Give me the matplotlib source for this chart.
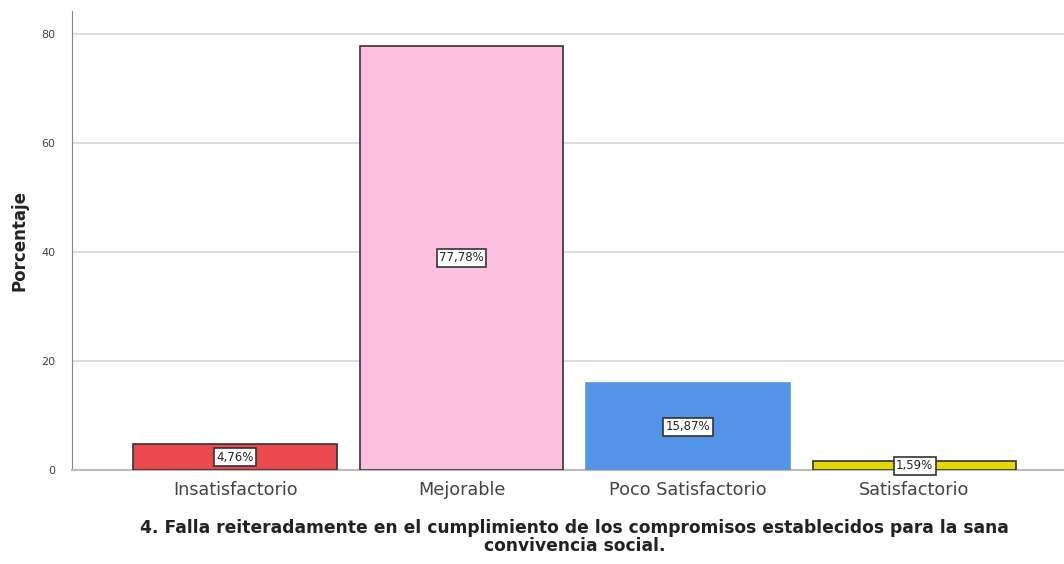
import matplotlib
matplotlib.use("Agg")
import matplotlib.pyplot as plt

categories = ["Insatisfactorio", "Mejorable", "Poco Satisfactorio", "Satisfactorio"]
values = [4.76, 77.78, 15.87, 1.59]
labels = ["4,76%", "77,78%", "15,87%", "1,59%"]
colors = ["#EA4A4E", "#FEC0E1", "#5494E6", "#E4D805"]
edges = ["#333333", "#333333", "#5494E6", "#333333"]
yticks = [0, 20, 40, 60, 80]

fig = plt.figure(figsize=(10.64, 5.64), dpi=100)
ax = fig.add_axes([0.0677, 0.1667, 0.9323, 0.8138])
x = list(range(len(categories)))
ax.bar(x, values, width=0.9, color=colors, edgecolor=edges, linewidth=1.2, zorder=3)
for xi, v, lab in zip(x, values, labels):
    ax.text(xi, v / 2, lab, ha="center", va="center", fontsize=8.5, color="#222222", zorder=4,
            bbox=dict(boxstyle="square,pad=0.2", fc="white", ec="#333333", lw=1.2))
ax.set_xlim(-0.72, 3.66)
ax.set_ylim(0, 84.2)
ax.set_yticks(yticks)
ax.set_yticklabels([str(t) for t in yticks], fontsize=8, color="#444444")
ax.set_xticks(x)
ax.set_xticklabels(categories, fontsize=12.7, color="#444444")
ax.tick_params(axis="x", length=0, pad=8)
ax.tick_params(axis="y", length=0, pad=12)
ax.grid(axis="y", color="#DDDDDD", linewidth=1.5, zorder=0)
for s in ["top", "right"]:
    ax.spines[s].set_visible(False)
ax.spines["left"].set_color("#888888")
ax.spines["bottom"].set_color("#BBBBBB")
ax.spines["bottom"].set_linewidth(1.5)
ax.set_ylabel("Porcentaje", fontsize=12, fontweight="bold", color="#222222", labelpad=9)
fig.text(0.54, 0.048, "4. Falla reiteradamente en el cumplimiento de los compromisos establecidos para la sana\nconvivencia social.",
         ha="center", va="center", fontsize=12.3, fontweight="bold", color="#222222", linespacing=1.0)
fig.savefig("out.png", dpi=100)
